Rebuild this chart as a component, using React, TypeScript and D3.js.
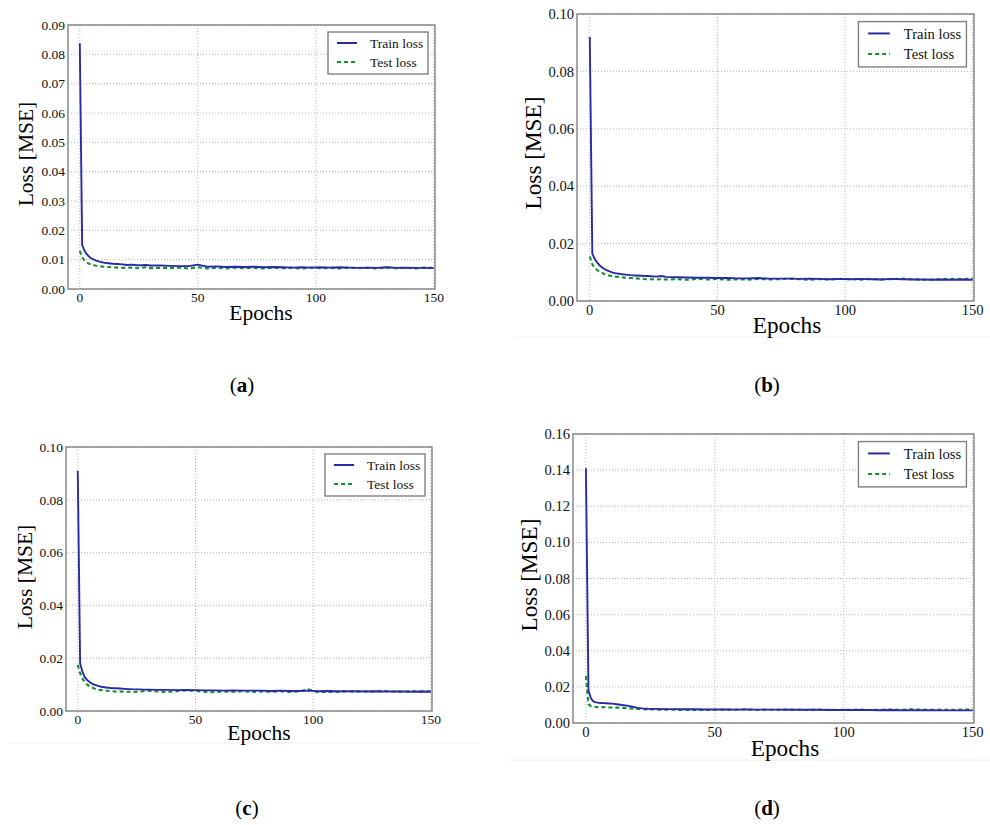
import React from 'react';
import * as d3 from 'd3';

const epochs = [0, 1, 2, 3, 4, 5, 6, 7, 8, 9, 10, 12, 14, 16, 18, 20, 22, 24, 26, 28, 30,
  34, 38, 42, 46, 50, 54, 58, 62, 66, 70, 74, 78, 82, 86, 90, 94, 98, 102, 106, 110,
  114, 118, 122, 126, 130, 134, 138, 142, 146, 150];

const trainA = [0.0838, 0.0150, 0.0130, 0.0118, 0.0110, 0.0104, 0.0100, 0.0097, 0.0094, 0.0092, 0.0090,
  0.0088, 0.0086, 0.0085, 0.0084, 0.0082, 0.0083, 0.0081, 0.0081, 0.0082, 0.0080,
  0.0080, 0.0079, 0.0078, 0.0078, 0.0083, 0.0076, 0.0077, 0.0075, 0.0076, 0.0075,
  0.0076, 0.0074, 0.0075, 0.0074, 0.0073, 0.0074, 0.0073, 0.0074, 0.0073, 0.0074,
  0.0073, 0.0072, 0.0073, 0.0072, 0.0074, 0.0072, 0.0073, 0.0072, 0.0072, 0.0071];
const testA = [0.0130, 0.0108, 0.0097, 0.0090, 0.0086, 0.0083, 0.0081, 0.0079, 0.0078, 0.0077, 0.0076,
  0.0075, 0.0074, 0.0073, 0.0072, 0.0072, 0.0073, 0.0071, 0.0072, 0.0074, 0.0071,
  0.0072, 0.0071, 0.0073, 0.0070, 0.0074, 0.0070, 0.0072, 0.0070, 0.0073, 0.0071,
  0.0072, 0.0070, 0.0073, 0.0071, 0.0072, 0.0070, 0.0073, 0.0071, 0.0072, 0.0070,
  0.0073, 0.0071, 0.0072, 0.0070, 0.0073, 0.0071, 0.0072, 0.0070, 0.0073, 0.0072];

const trainB = [0.0920, 0.0165, 0.0145, 0.0133, 0.0123, 0.0116, 0.0110, 0.0106, 0.0102, 0.0099, 0.0097,
  0.0094, 0.0092, 0.0090, 0.0089, 0.0088, 0.0087, 0.0086, 0.0085, 0.0087, 0.0084,
  0.0083, 0.0082, 0.0081, 0.0081, 0.0080, 0.0080, 0.0079, 0.0079, 0.0080, 0.0078,
  0.0078, 0.0078, 0.0077, 0.0078, 0.0077, 0.0076, 0.0077, 0.0076, 0.0077, 0.0076,
  0.0075, 0.0077, 0.0076, 0.0075, 0.0075, 0.0074, 0.0075, 0.0074, 0.0075, 0.0074];
const testB = [0.0155, 0.0128, 0.0115, 0.0107, 0.0101, 0.0097, 0.0093, 0.0090, 0.0088, 0.0086, 0.0085,
  0.0083, 0.0081, 0.0080, 0.0079, 0.0077, 0.0076, 0.0076, 0.0075, 0.0076, 0.0075,
  0.0076, 0.0074, 0.0077, 0.0075, 0.0077, 0.0074, 0.0076, 0.0074, 0.0077, 0.0075,
  0.0076, 0.0078, 0.0076, 0.0074, 0.0076, 0.0075, 0.0077, 0.0076, 0.0074, 0.0077,
  0.0075, 0.0076, 0.0078, 0.0076, 0.0074, 0.0075, 0.0076, 0.0077, 0.0076, 0.0079];

const trainC = [0.0910, 0.0180, 0.0148, 0.0128, 0.0117, 0.0110, 0.0104, 0.0100, 0.0097, 0.0094, 0.0092,
  0.0089, 0.0087, 0.0086, 0.0085, 0.0084, 0.0083, 0.0082, 0.0082, 0.0081, 0.0081,
  0.0080, 0.0080, 0.0079, 0.0080, 0.0079, 0.0078, 0.0078, 0.0077, 0.0078, 0.0077,
  0.0077, 0.0077, 0.0076, 0.0077, 0.0076, 0.0076, 0.0077, 0.0075, 0.0076, 0.0075,
  0.0075, 0.0075, 0.0074, 0.0075, 0.0074, 0.0074, 0.0074, 0.0073, 0.0074, 0.0073];
const testC = [0.0175, 0.0143, 0.0123, 0.0109, 0.0100, 0.0094, 0.0089, 0.0085, 0.0082, 0.0080, 0.0079,
  0.0077, 0.0075, 0.0074, 0.0074, 0.0073, 0.0073, 0.0072, 0.0073, 0.0075, 0.0077,
  0.0074, 0.0072, 0.0075, 0.0078, 0.0076, 0.0073, 0.0071, 0.0074, 0.0073, 0.0075,
  0.0072, 0.0074, 0.0073, 0.0075, 0.0072, 0.0074, 0.0082, 0.0071, 0.0073, 0.0072,
  0.0074, 0.0073, 0.0075, 0.0073, 0.0076, 0.0074, 0.0073, 0.0075, 0.0074, 0.0075];

const trainD = [0.1410, 0.0180, 0.0135, 0.0118, 0.0114, 0.0112, 0.0111, 0.0110, 0.0109, 0.0108, 0.0107,
  0.0104, 0.0100, 0.0096, 0.0090, 0.0084, 0.0081, 0.0079, 0.0078, 0.0078, 0.0077,
  0.0077, 0.0076, 0.0076, 0.0075, 0.0075, 0.0075, 0.0074, 0.0075, 0.0074, 0.0074,
  0.0074, 0.0073, 0.0073, 0.0073, 0.0073, 0.0072, 0.0072, 0.0072, 0.0072, 0.0072,
  0.0071, 0.0072, 0.0071, 0.0071, 0.0071, 0.0071, 0.0070, 0.0070, 0.0070, 0.0070];
const testD = [0.0260, 0.0105, 0.0092, 0.0090, 0.0089, 0.0088, 0.0088, 0.0087, 0.0087, 0.0086, 0.0086,
  0.0085, 0.0084, 0.0082, 0.0080, 0.0078, 0.0077, 0.0075, 0.0075, 0.0074, 0.0074,
  0.0073, 0.0072, 0.0073, 0.0072, 0.0073, 0.0074, 0.0073, 0.0076, 0.0072, 0.0074,
  0.0073, 0.0075, 0.0073, 0.0072, 0.0074, 0.0073, 0.0072, 0.0073, 0.0074, 0.0072,
  0.0073, 0.0075, 0.0073, 0.0076, 0.0074, 0.0073, 0.0074, 0.0073, 0.0074, 0.0075];

const xTicks = [0, 50, 100, 150];
const legendLabels = ['Train loss', 'Test loss'];
const captions = ['a', 'b', 'c', 'd'];

const FONT = '"Liberation Serif", "Times New Roman", serif';
const TRAIN_COLOR = '#2a2aa6';
const TEST_COLOR = '#12902e';

const panels = [
  { left: 68, right: 435, top: 25, bottom: 289, ymax: 0.09, step: 0.01, s: 1, train: trainA, test: testA,
    ylab: [33, 154], xlab: [261, 320], cap: [242, 392] },
  { left: 577, right: 974, top: 14, bottom: 301, ymax: 0.10, step: 0.02, s: 1.08, train: trainB, test: testB,
    ylab: [541, 153], xlab: [787, 333], cap: [767, 392] },
  { left: 66, right: 432, top: 447, bottom: 711, ymax: 0.10, step: 0.02, s: 1, train: trainC, test: testC,
    ylab: [32, 577], xlab: [259, 740], cap: [247, 815] },
  { left: 573, right: 974, top: 434, bottom: 723, ymax: 0.16, step: 0.02, s: 1.08, train: trainD, test: testD,
    ylab: [537, 575], xlab: [785, 756], cap: [767, 815] },
];

function Panel({ p, cap }) {
  const x = d3.scaleLinear().domain([-5, 150.5]).range([p.left, p.right]);
  const y = d3.scaleLinear().domain([0, p.ymax]).range([p.bottom, p.top]);
  const yTicks = d3.range(0, p.ymax + p.step / 2, p.step);
  const line = d3.line<number>().x((d, i) => x(epochs[i])).y(d => y(d));
  const s = p.s;
  const tickSize = 13.5 * s;
  const bw = 100 * s, bh = 42 * s;
  const bx = p.right - 7 * s - bw, by = p.top + 7 * s;

  return (
    <g fontFamily={FONT}>
      {yTicks.map(t => (
        <line key={'gy' + t} x1={p.left} x2={p.right} y1={y(t)} y2={y(t)}
          stroke="#b8b8b8" strokeWidth={1} strokeDasharray="1,2" />
      ))}
      {xTicks.map(t => (
        <line key={'gx' + t} x1={x(t)} x2={x(t)} y1={p.top} y2={p.bottom}
          stroke="#b8b8b8" strokeWidth={1} strokeDasharray="1,2" />
      ))}
      <path d={line(p.test) || ''} fill="none" stroke={TEST_COLOR} strokeWidth={2.1} strokeDasharray="4,3" />
      <path d={line(p.train) || ''} fill="none" stroke={TRAIN_COLOR} strokeWidth={1.9} />
      <rect x={p.left} y={p.top} width={p.right - p.left} height={p.bottom - p.top}
        fill="none" stroke="#808080" strokeWidth={1.4} />
      {yTicks.map(t => (
        <text key={'ty' + t} x={p.left - 3} y={y(t)} dy="0.35em" textAnchor="end"
          fontSize={tickSize} fill="#111">{t.toFixed(2)}</text>
      ))}
      {xTicks.map(t => (
        <text key={'tx' + t} x={x(t)} y={p.bottom + 12.5 * s} textAnchor="middle"
          fontSize={tickSize} fill="#111">{t}</text>
      ))}
      <text transform={`translate(${p.ylab[0]},${p.ylab[1]}) rotate(-90)`} textAnchor="middle"
        fontSize={21.5 * s} fill="#000">Loss [MSE]</text>
      <text x={p.xlab[0]} y={p.xlab[1]} textAnchor="middle" fontSize={21.5 * s} fill="#000">Epochs</text>

      <rect x={bx} y={by} width={bw} height={bh} fill="#fff" stroke="#808080" strokeWidth={1.4} />
      <line x1={bx + 9 * s} x2={bx + 29 * s} y1={by + 11 * s} y2={by + 11 * s} stroke={TRAIN_COLOR} strokeWidth={2} />
      <line x1={bx + 9 * s} x2={bx + 29 * s} y1={by + 30 * s} y2={by + 30 * s} stroke={TEST_COLOR}
        strokeWidth={2.1} strokeDasharray="4,3" />
      {legendLabels.map((l, i) => (
        <text key={l} x={bx + 42 * s} y={by + (11 + 19 * i) * s} dy="0.35em" fontSize={13.5 * s} fill="#111">{l}</text>
      ))}

      <text x={p.cap[0]} y={p.cap[1]} textAnchor="middle" fontSize={21} fill="#000">
        (<tspan fontWeight="bold">{cap}</tspan>)
      </text>
    </g>
  );
}

export default function App() {
  return (
    <svg width={990} height={825} style={{ position: 'absolute', left: 0, top: 0, background: '#fff' }}>
      <rect width={990} height={825} fill="#fff" />
      <line x1={515} x2={990} y1={337} y2={337} stroke="#f0f0f0" strokeWidth={1} />
      <line x1={8} x2={480} y1={743} y2={743} stroke="#f0f0f0" strokeWidth={1} />
      <line x1={510} x2={990} y1={760} y2={760} stroke="#f0f0f0" strokeWidth={1} />
      {panels.map((p, i) => <Panel key={i} p={p} cap={captions[i]} />)}
    </svg>
  );
}
